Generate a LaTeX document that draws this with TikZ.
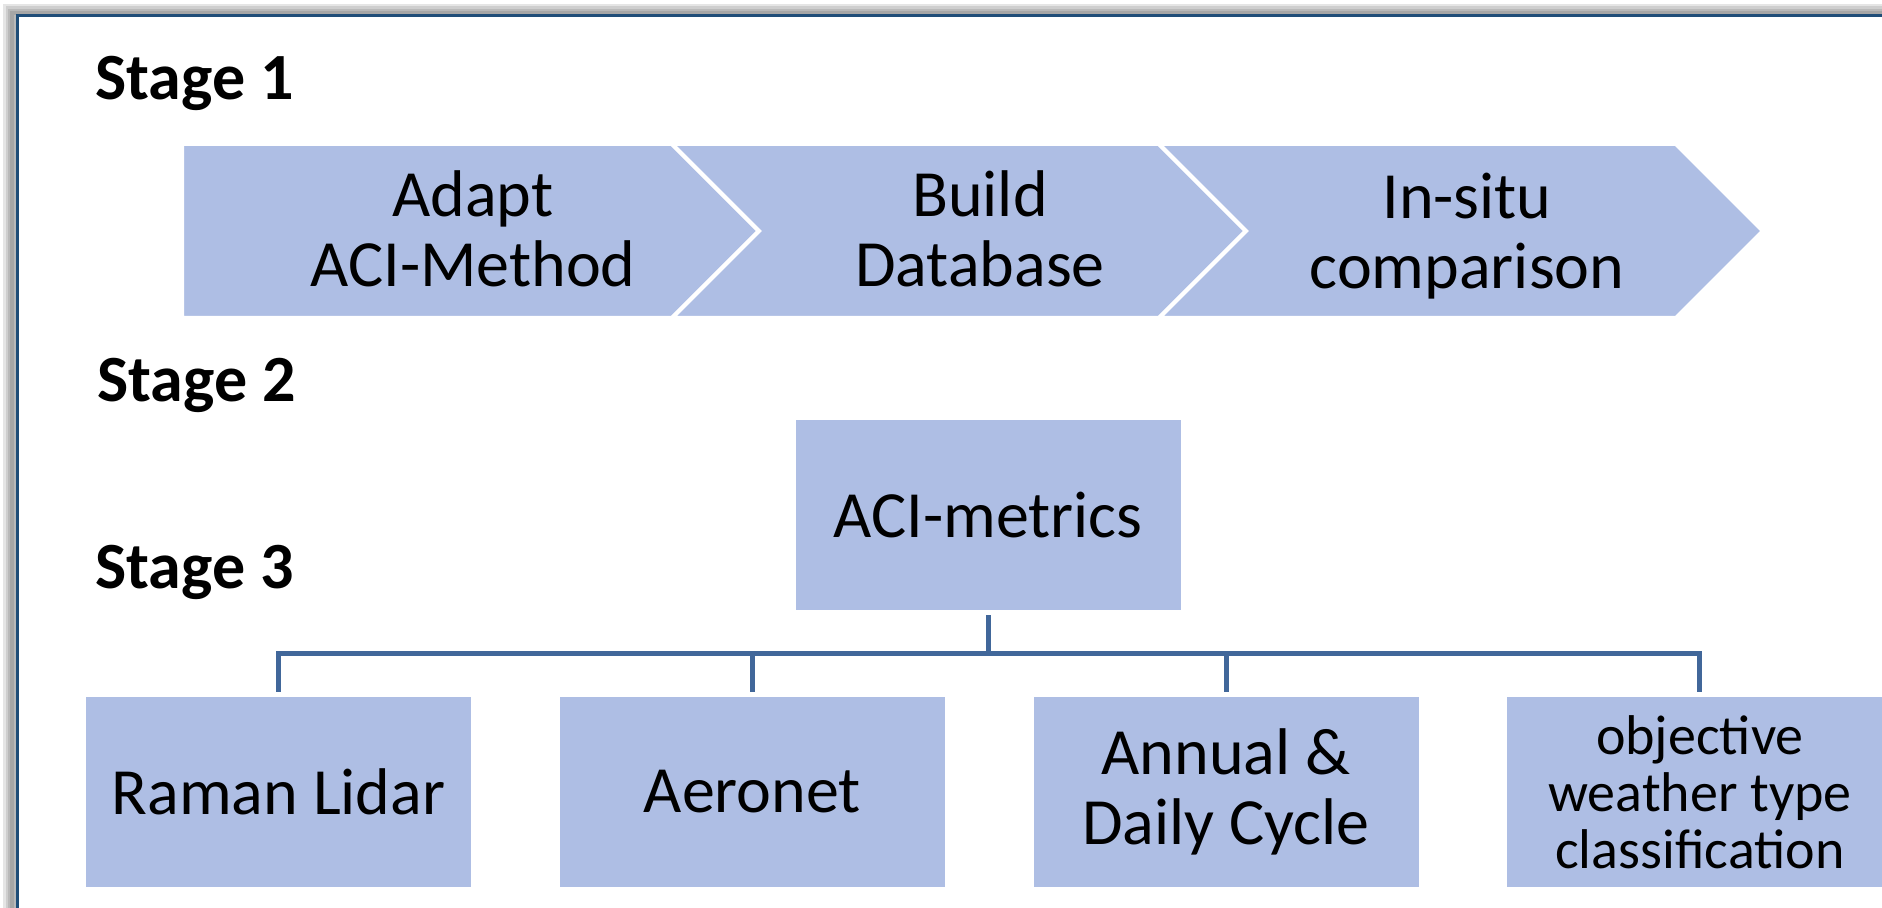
\documentclass[tikz,border=0pt]{standalone}
\usepackage{fontspec}
\setmainfont{Carlito}
\usetikzlibrary{positioning}
\definecolor{boxblue}{RGB}{174,190,228}
\definecolor{linkblue}{RGB}{65,103,154}
\definecolor{framenavy}{RGB}{31,77,120}

\begin{document}
\begin{tikzpicture}[x=0.5pt,y=-0.5pt]
\tikzset{every node/.style={font=\fontsize{33}{35}\selectfont}}
\tikzset{stage/.style={anchor=base west,inner sep=0pt,font=\fontsize{33}{35}\selectfont\bfseries}}
\tikzset{chevron/.style={fill=boxblue,draw=white,line width=2pt,line join=miter}}
\tikzset{block/.style={fill=boxblue,minimum width=192.5pt,minimum height=95pt,align=center,inner sep=0pt}}
\tikzset{link/.style={draw=linkblue,line width=2.5pt}}
\useasboundingbox (0,0) rectangle (1882,908);
% frame and its shadow
\foreach \w in {9pt,6.5pt,4pt,2pt}
  \draw[black,opacity=0.1,line width=\w] (12,1000) -- (12,13) -- (2000,13);
\fill[white] (18,17) rectangle (2000,1000);
\draw[framenavy,line width=1.5pt] (17,16) rectangle (2000,1000);
\node[stage] (stage1) at (95,100) {Stage 1};
\node[stage] (stage2) at (97,402) {Stage 2};
\node[stage] (stage3) at (95,588) {Stage 3};
% stage 1 chevrons
\filldraw[chevron] (182,144) -- (672,144) -- (759,231) -- (672,318) -- (182,318) -- cycle;
\filldraw[chevron] (672,144) -- (1159,144) -- (1246,231) -- (1159,318) -- (672,318) -- (759,231) -- cycle;
\filldraw[chevron] (1159,144) -- (1676,144) -- (1763,231) -- (1676,318) -- (1159,318) -- (1246,231) -- cycle;
\node[align=center] (adapt) at (473,229) {Adapt\\ACI-Method};
\node[align=center] (build) at (980,229) {Build\\Database};
\node[align=center] (insitu) at (1467,236) {In-situ\\comparison};
% stage 2 and 3
\node[block] (aci) at (988,515) {ACI-metrics};
\node[block] (raman) at (278.5,792) {Raman Lidar};
\node[block,right=44pt of raman] (aeronet) {Aeronet};
\node[block,right=44pt of aeronet] (cycle) {Annual \&\\Daily Cycle};
\node[block,right=44pt of cycle,font=\fontsize{28}{28.5}\selectfont] (weather) {objective\\weather type\\classification};
\coordinate (fork) at (988,653);
\draw[link] ([yshift=-2.5pt]aci.south) -- (fork);
\draw[link] ([yshift=2.5pt]raman.north) |- (fork) -| ([yshift=2.5pt]weather.north);
\draw[link] ([yshift=2.5pt]aeronet.north) -- (aeronet.north |- fork);
\draw[link] ([yshift=2.5pt]cycle.north) -- (cycle.north |- fork);
\end{tikzpicture}
\end{document}
